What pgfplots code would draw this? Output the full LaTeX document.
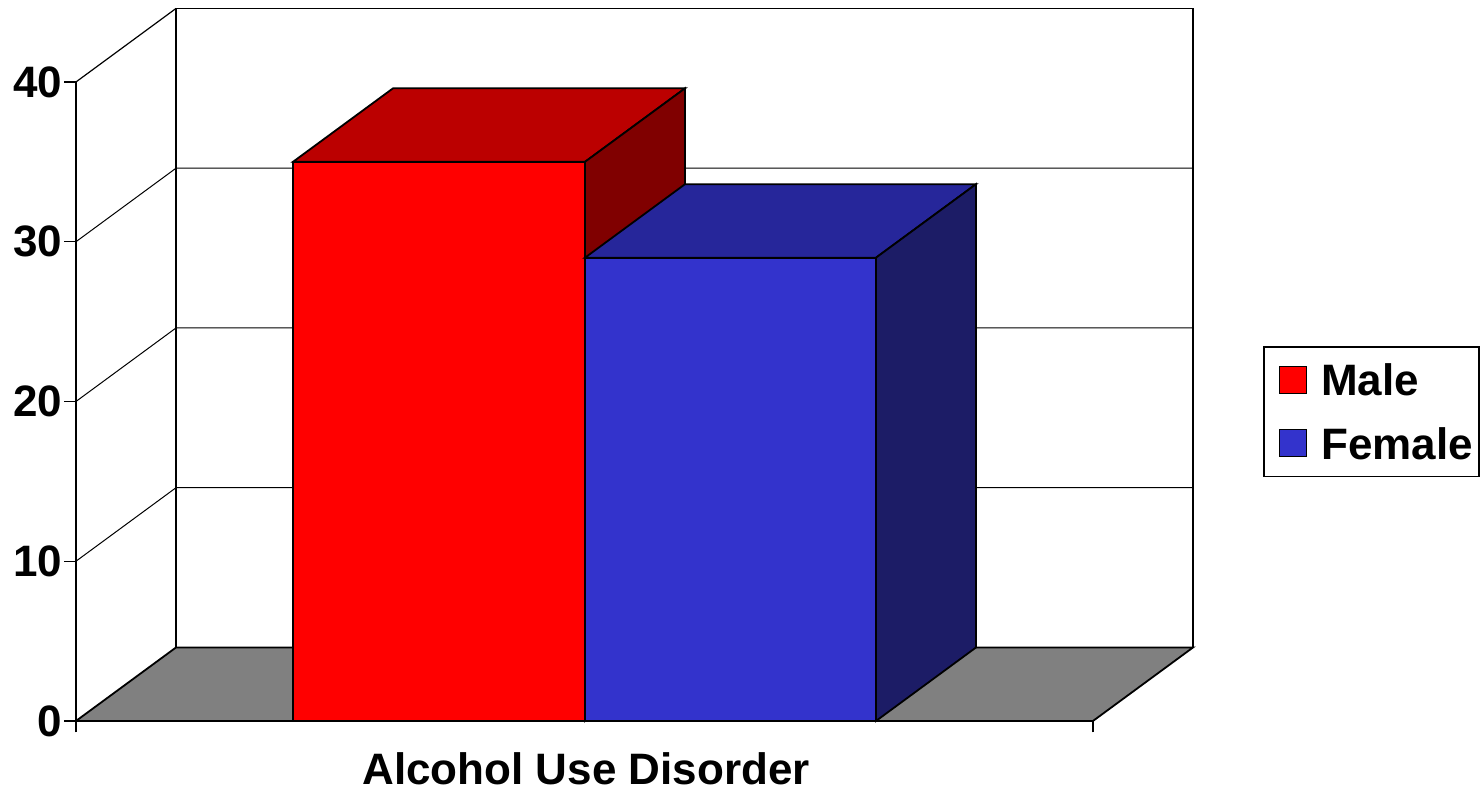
\documentclass[border=0pt]{standalone}
\usepackage{pgfplots}
\pgfplotsset{compat=1.18}
\usepackage{fontspec}
\setmainfont{Liberation Sans}
\definecolor{mfront}{HTML}{FF0000}
\definecolor{mtop}{HTML}{BB0000}
\definecolor{mside}{HTML}{800000}
\definecolor{ffront}{HTML}{3333CC}
\definecolor{ftop}{HTML}{26269A}
\definecolor{fside}{HTML}{1C1C66}
\definecolor{floorc}{HTML}{808080}
\newcommand{\bigbf}{\fontsize{22}{26}\selectfont\bfseries}
\begin{document}
\begin{tikzpicture}
\begin{axis}[
  x=0.5pt, y=7.9875pt,
  xmin=76, xmax=1093, ymin=0, ymax=40,
  clip=false,
  axis lines*=left,
  axis line style={line width=0.8pt, black},
  tick align=outside,
  major tick length=5.75pt,
  tick style={line width=0.6pt, black},
  ytick={0,10,20,30,40},
  xtick={76,1093},
  xticklabels={},
  yticklabel style={font=\bigbf, inner sep=0pt, xshift=-1pt},
  /pgf/number format/assume math mode=true,
  xlabel={Alcohol Use Disorder},
  xlabel style={at={(axis cs:586,-4.0)}, anchor=base, font=\bigbf, inner sep=0pt},
  legend cell align=left,
  legend style={at={(axis cs:1263,23.47)}, anchor=north west, draw=black, line width=0.8pt,
    fill=white, font=\bigbf, inner xsep=3pt, inner ysep=8.5pt, row sep=15.75pt, column sep=7pt,
    nodes={inner sep=0pt, text height=16pt, text depth=0pt}},
  legend image code/.code={\path (0pt,0pt); \draw[#1, line width=0.6pt] (4.5pt,-6.75pt) rectangle (18pt,6.75pt);},
]
\addlegendimage{fill=mfront, draw=black}
\addlegendentry{Male}
\addlegendimage{fill=ffront, draw=black}
\addlegendentry{Female}

% back wall
\addplot[draw=black, line width=0.8pt, fill=white] coordinates {(176,4.6) (176,44.6) (1193,44.6) (1193,4.6)} -- cycle;
% gridlines on back wall and left side
\addplot[black, line width=0.5pt] coordinates {(76,10) (176,14.6) (1193,14.6)};
\addplot[black, line width=0.5pt] coordinates {(76,20) (176,24.6) (1193,24.6)};
\addplot[black, line width=0.5pt] coordinates {(76,30) (176,34.6) (1193,34.6)};
\addplot[black, line width=0.6pt] coordinates {(76,40) (176,44.6)};
% floor
\addplot[fill=floorc, draw=black, line width=0.9pt] coordinates {(76,0) (176,4.6) (1193,4.6) (1093,0)} -- cycle;

% Male = 35
\addplot[fill=mfront, draw=black, line width=0.9pt] coordinates {(293,0) (585,0) (585,35) (293,35)} -- cycle;
\addplot[fill=mtop, draw=black, line width=0.9pt] coordinates {(293,35) (393,39.6) (685,39.6) (585,35)} -- cycle;
\addplot[fill=mside, draw=black, line width=0.9pt] coordinates {(585,0) (685,4.6) (685,39.6) (585,35)} -- cycle;
% Female = 29
\addplot[fill=ffront, draw=black, line width=0.9pt] coordinates {(585,0) (876,0) (876,29) (585,29)} -- cycle;
\addplot[fill=ftop, draw=black, line width=0.9pt] coordinates {(585,29) (685,33.6) (976,33.6) (876,29)} -- cycle;
\addplot[fill=fside, draw=black, line width=0.9pt] coordinates {(876,0) (976,4.6) (976,33.6) (876,29)} -- cycle;

\coordinate (bl) at (axis cs:0,-4.32);
\coordinate (tr) at (axis cs:1483,45.13);
\end{axis}
\pgfresetboundingbox
\path[use as bounding box] (bl) rectangle (tr);
\end{tikzpicture}
\end{document}
